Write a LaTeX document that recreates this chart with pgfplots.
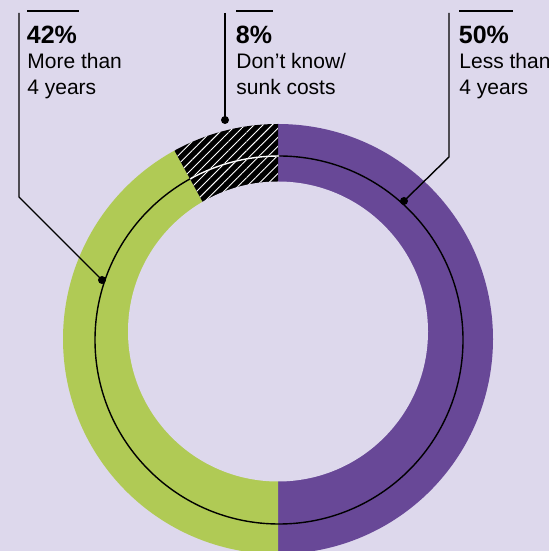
\documentclass[border=0pt]{standalone}
\usepackage{pgfplots}
\pgfplotsset{compat=1.18}
\usepackage{pgfplotstable}
\usepackage{fontspec}
\setmainfont{Liberation Sans}
\usetikzlibrary{patterns.meta}
\definecolor{bg}{HTML}{DDD8EC}
\definecolor{purp}{HTML}{684897}
\definecolor{lime}{HTML}{B0CA55}

\pgfplotstableread{
label value
less 50
more 42
dk 8
}\sharetable

\begin{document}
\begin{tikzpicture}
\pgfplotstablegetelem{0}{value}\of\sharetable
\pgfmathsetmacro{\aA}{90-3.6*\pgfplotsretval}
\pgfplotstablegetelem{1}{value}\of\sharetable
\pgfmathsetmacro{\aB}{\aA-3.6*\pgfplotsretval}
\pgfplotstablegetelem{2}{value}\of\sharetable
\pgfmathsetmacro{\aC}{\aB-3.6*\pgfplotsretval}
\begin{axis}[scale only axis, width=274.5pt, height=275.5pt,
  xmin=0, xmax=549, ymin=0, ymax=551, hide axis, clip=false]
  \coordinate (sw) at (axis cs:0,0);
  \coordinate (ne) at (axis cs:549,551);
  \fill[bg] (axis cs:0,0) rectangle (axis cs:549,551);
  % sectors
  \fill[purp] (axis cs:278,212) -- ++(90:107.5pt) arc[start angle=90, end angle=\aA, radius=107.5pt] -- cycle;
  \fill[lime] (axis cs:278,212) -- ++(\aA:107.5pt) arc[start angle=\aA, end angle=\aB, radius=107.5pt] -- cycle;
  \fill[black] (axis cs:278,212) -- ++(\aB:107.5pt) arc[start angle=\aB, end angle=\aC, radius=107.5pt] -- cycle;
  \fill[pattern={Lines[angle=45, distance=3.2pt, line width=0.45pt]}, pattern color=white]
     (axis cs:278,212) -- ++(\aB:107.5pt) arc[start angle=\aB, end angle=\aC, radius=107.5pt] -- cycle;
  % hole
  \fill[bg] (axis cs:278,219.5) circle[radius=75pt];
  % thin circle
  \draw[black, line width=0.7pt] (axis cs:279,211) circle[radius=92pt];
  \draw[white, line width=0.7pt] (axis cs:279,211) ++(\aB:92pt) arc[start angle=\aB, end angle=\aC, radius=92pt];
  % leaders
  \draw[black, line width=0.7pt] (axis cs:19,538) -- (axis cs:19,354) -- (axis cs:102,271);
  \draw[black, line width=0.7pt] (axis cs:225,538) -- (axis cs:225,431);
  \draw[black, line width=0.7pt] (axis cs:449,538) -- (axis cs:449,394) -- (axis cs:404,350);
  \fill[black] (axis cs:102,271) circle[radius=2pt];
  \fill[black] (axis cs:225,431) circle[radius=2pt];
  \fill[black] (axis cs:404,350) circle[radius=2pt];
  % top bars
  \draw[black, line width=1.2pt] (axis cs:27,540) -- (axis cs:79,540);
  \draw[black, line width=1.2pt] (axis cs:236,540) -- (axis cs:273,540);
  \draw[black, line width=1.2pt] (axis cs:459,540) -- (axis cs:513,540);
  % labels
  \node[anchor=base west, inner sep=0pt, font=\fontsize{12.5}{14}\selectfont\bfseries] at (axis cs:26.5,507.5) {42\%};
  \node[anchor=base west, inner sep=0pt, font=\fontsize{10.5}{12}\selectfont] at (axis cs:27,482.5) {More than};
  \node[anchor=base west, inner sep=0pt, font=\fontsize{10.5}{12}\selectfont] at (axis cs:27,456.5) {4 years};
  \node[anchor=base west, inner sep=0pt, font=\fontsize{12.5}{14}\selectfont\bfseries] at (axis cs:235.5,507.5) {8\%};
  \node[anchor=base west, inner sep=0pt, font=\fontsize{10.5}{12}\selectfont] at (axis cs:236,482.5) {Don’t know/};
  \node[anchor=base west, inner sep=0pt, font=\fontsize{10.5}{12}\selectfont] at (axis cs:236,456.5) {sunk costs};
  \node[anchor=base west, inner sep=0pt, font=\fontsize{12.5}{14}\selectfont\bfseries] at (axis cs:458.5,507.5) {50\%};
  \node[anchor=base west, inner sep=0pt, font=\fontsize{10.5}{12}\selectfont] at (axis cs:459,482.5) {Less than};
  \node[anchor=base west, inner sep=0pt, font=\fontsize{10.5}{12}\selectfont] at (axis cs:459,456.5) {4 years};
\end{axis}
\pgfresetboundingbox
\useasboundingbox (sw) rectangle (ne);
\end{tikzpicture}
\end{document}
